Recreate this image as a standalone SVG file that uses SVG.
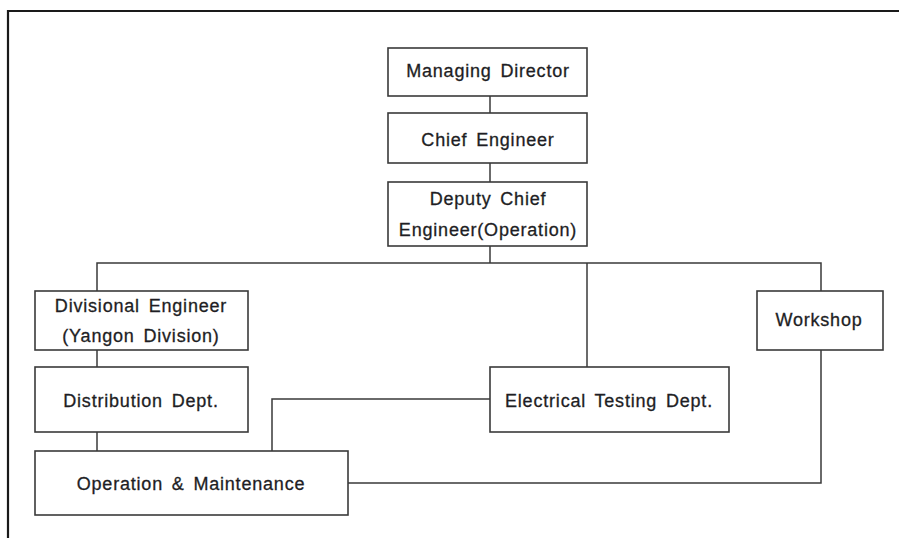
<svg xmlns="http://www.w3.org/2000/svg" width="899" height="538" viewBox="0 0 899 538">
  <style>
    .box { fill: #ffffff; stroke: #3a3a3a; stroke-width: 1.6; }
    .lbl { font-family: "Liberation Sans", Arial, sans-serif; font-size: 18px; fill: #1e1e24; stroke: #1e1e24; stroke-width: 0.3px; text-anchor: middle; letter-spacing: 0.8px; word-spacing: 3px; }
    .conn { fill: none; stroke: #3a3a3a; stroke-width: 1.5; }
    .frame { fill: none; stroke: #1a1a1a; stroke-width: 2.2; }
  </style>
  <rect width="899" height="538" fill="#ffffff"/>

  <!-- page frame -->
  <path class="frame" d="M8 538 V11 H899"/>

  <!-- connectors -->
  <g id="connectors">
    <path class="conn" d="M490 96 V113"/>
    <path class="conn" d="M490 163 V182"/>
    <path class="conn" d="M490 246 V263"/>
    <path class="conn" d="M97 291 V263 H821 V291"/>
    <path class="conn" d="M587 263 V367"/>
    <path class="conn" d="M97 350 V367"/>
    <path class="conn" d="M97 432 V451"/>
    <path class="conn" d="M272 451 V399 H490"/>
    <path class="conn" d="M821 350 V483 H348"/>
  </g>

  <g id="managing-director">
    <rect class="box" x="388" y="48" width="199" height="48"/>
    <text class="lbl" x="488" y="77">Managing Director</text>
  </g>

  <g id="chief-engineer">
    <rect class="box" x="388" y="113" width="199" height="50"/>
    <text class="lbl" x="488" y="146">Chief Engineer</text>
  </g>

  <g id="deputy-chief-engineer">
    <rect class="box" x="388" y="182" width="199" height="64"/>
    <text class="lbl" x="488" y="205">Deputy Chief</text>
    <text class="lbl" x="488" y="236">Engineer(Operation)</text>
  </g>

  <g id="divisional-engineer">
    <rect class="box" x="35" y="291" width="213" height="59"/>
    <text class="lbl" x="141" y="312">Divisional Engineer</text>
    <text class="lbl" x="141" y="342">(Yangon Division)</text>
  </g>

  <g id="distribution-dept">
    <rect class="box" x="35" y="367" width="213" height="65"/>
    <text class="lbl" x="141" y="407">Distribution Dept.</text>
  </g>

  <g id="operation-maintenance">
    <rect class="box" x="35" y="451" width="313" height="64"/>
    <text class="lbl" x="191" y="490">Operation &amp; Maintenance</text>
  </g>

  <g id="electrical-testing-dept">
    <rect class="box" x="490" y="367" width="239" height="65"/>
    <text class="lbl" x="609" y="407">Electrical Testing Dept.</text>
  </g>

  <g id="workshop">
    <rect class="box" x="757" y="291" width="126" height="59"/>
    <text class="lbl" x="819" y="326">Workshop</text>
  </g>
</svg>
